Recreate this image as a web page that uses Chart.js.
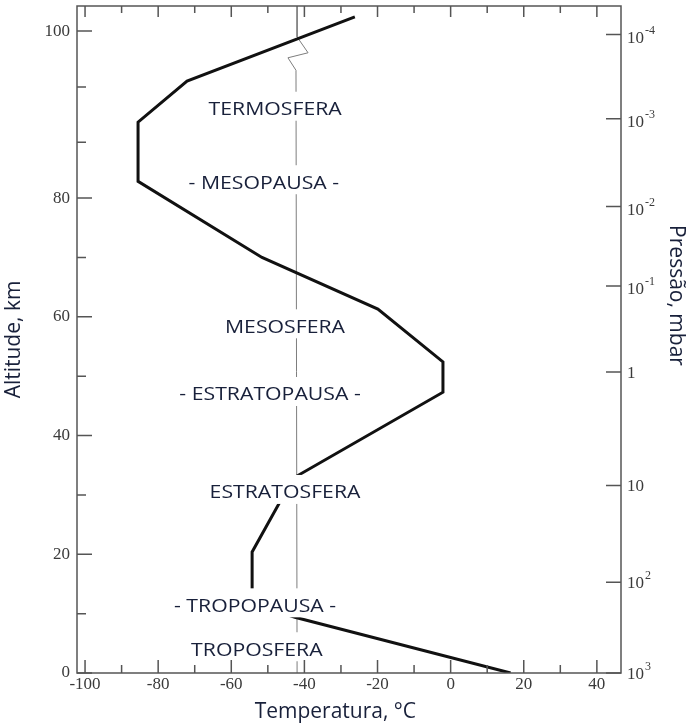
<!DOCTYPE html>
<html>
<head>
<meta charset="utf-8">
<script src="https://cdn.jsdelivr.net/npm/chart.js@4.4.0/dist/chart.umd.min.js"></script>
<style>
  html, body { margin: 0; padding: 0; background: #fff; }
  #wrap { width: 690px; height: 723px; }
</style>
</head>
<body>
<div id="wrap"><canvas id="chart"></canvas></div>
<script>
// temperature profile of the atmosphere (°C against km)
const profileTemp = [-26.2, -72.1, -85.5, -85.5, -51.6, -19.9, -2.1, -2.1, -43.1, -54.3, -54.3, -42.6, 16.4];
const profileAlt  = [101.7, 94.0, 89.1, 82.0, 70.0, 61.3, 52.4, 47.3, 32.8, 20.4, 11.8, 9.4, 0];

// thin reference line near -42 °C, with its little zigzag at the top
const refTemp = [-42, -42, -39.0, -44.5, -42.3, -42];
const refAlt  = [103, 99.3, 97.4, 96.8, 95.3, 0];

const layerNames = ['TERMOSFERA', '- MESOPAUSA -', 'MESOSFERA', '- ESTRATOPAUSA -', 'ESTRATOSFERA', '- TROPOPAUSA -', 'TROPOSFERA'];
const layerTemp  = [-48.0, -51.1, -45.3, -49.4, -45.3, -53.5, -53.0];
const layerAlt   = [90.7, 81.9, 58.4, 47.0, 30.5, 11.4, 4.0];

const tempTicks      = [-100, -80, -60, -40, -20, 0, 20, 40];
const tempMinorTicks = [-90, -70, -50, -30, -10, 10, 30];
const altTicks       = [0, 20, 40, 60, 80, 100];
const altMinorTicks  = [10, 30, 50, 70, 86.7, 93.3];
const pressureLabels = ['10^-4', '10^-3', '10^-2', '10^-1', '1', '10', '10^2', '10^3'];
const pressureAlt    = [99.6, 89.5, 78.6, 65.2, 50.7, 31.6, 15.3, 0];

const textColor = '#18203a';
const axisColor = '#555';
const serif = '"Liberation Serif", "DejaVu Serif", serif';
const sans = '"Open Sans", "Noto Sans", sans-serif';

// the source figure uses a wider step for the km axis above 80 km
const altBreak = { value: 80, fraction: 0.712 };

class BrokenAltitudeScale extends Chart.LinearScale {
  toFraction(v) {
    if (v <= altBreak.value) return (v - this.min) / (altBreak.value - this.min) * altBreak.fraction;
    return altBreak.fraction + (v - altBreak.value) / (this.max - altBreak.value) * (1 - altBreak.fraction);
  }
  getPixelForValue(v) {
    if (v === null || v === undefined || isNaN(v)) return NaN;
    return this.bottom - this.toFraction(v) * (this.bottom - this.top);
  }
  getValueForPixel(p) {
    const f = (this.bottom - p) / (this.bottom - this.top);
    if (f <= altBreak.fraction) return this.min + f / altBreak.fraction * (altBreak.value - this.min);
    return altBreak.value + (f - altBreak.fraction) / (1 - altBreak.fraction) * (this.max - altBreak.value);
  }
}
BrokenAltitudeScale.id = 'brokenAltitude';
Chart.register(BrokenAltitudeScale);

// fixed axis sizes so the plot box sits where it does in the figure
const fixVertical = width => s => {
  s.width = width;
  s.paddingTop = 0;
  s.paddingBottom = 0;
};

const layerLabels = {
  id: 'layerLabels',
  afterDatasetsDraw(chart) {
    const { ctx, scales: { x, y } } = chart;
    const stretch = 1.18;
    ctx.save();
    ctx.font = '18px ' + sans;
    layerNames.forEach((name, i) => {
      const cx = x.getPixelForValue(layerTemp[i]);
      const cy = y.getPixelForValue(layerAlt[i]);
      const w = ctx.measureText(name).width * stretch;
      ctx.fillStyle = '#fff';
      ctx.fillRect(cx - w / 2 - 5, cy - 17, w + 10, 29);
      ctx.save();
      ctx.translate(cx, cy + 6.4);
      ctx.scale(stretch, 1);
      ctx.textAlign = 'center';
      ctx.textBaseline = 'alphabetic';
      ctx.fillStyle = textColor;
      ctx.fillText(name, 0, 0);
      ctx.restore();
    });
    ctx.restore();
  }
};

const axisFrame = {
  id: 'axisFrame',
  afterDraw(chart) {
    const { ctx, chartArea: a, scales: { x, y } } = chart;
    ctx.save();
    ctx.strokeStyle = axisColor;
    ctx.lineWidth = 1.5;
    ctx.strokeRect(a.left, a.top, a.right - a.left, a.bottom - a.top);
    ctx.beginPath();
    const seg = (x1, y1, x2, y2) => { ctx.moveTo(x1, y1); ctx.lineTo(x2, y2); };
    tempTicks.forEach(v => {
      const px = x.getPixelForValue(v);
      seg(px, a.bottom, px, a.bottom - 13);
      seg(px, a.top, px, a.top + 11);
    });
    tempMinorTicks.forEach(v => {
      const px = x.getPixelForValue(v);
      seg(px, a.bottom, px, a.bottom - 8);
      seg(px, a.top, px, a.top + 7);
    });
    altTicks.forEach(v => {
      const py = y.getPixelForValue(v);
      seg(a.left, py, a.left + 15, py);
    });
    altMinorTicks.forEach(v => {
      const py = y.getPixelForValue(v);
      seg(a.left, py, a.left + 9, py);
    });
    pressureAlt.forEach(v => {
      const py = y.getPixelForValue(v);
      seg(a.right, py, a.right - 15, py);
    });
    ctx.stroke();

    // pressure labels with superscript exponents
    ctx.fillStyle = '#3a3a3a';
    ctx.textAlign = 'left';
    ctx.textBaseline = 'alphabetic';
    pressureLabels.forEach((lab, i) => {
      const py = y.getPixelForValue(pressureAlt[i]);
      const [base, exp] = lab.split('^');
      const bx = a.right + 6;
      const by = py + 5.5 + (exp && exp[0] === '-' ? 3 : 0);
      ctx.font = '17px ' + serif;
      ctx.fillText(base, bx, by);
      if (exp) {
        const bw = ctx.measureText(base).width;
        ctx.font = '12px ' + serif;
        ctx.fillText(exp, bx + bw + 1, by - 9);
      }
    });

    // right axis title
    ctx.save();
    ctx.translate(chart.width - 14, (a.top + a.bottom) / 2 - 44);
    ctx.rotate(Math.PI / 2);
    ctx.font = '21px ' + sans;
    ctx.fillStyle = textColor;
    ctx.textAlign = 'center';
    ctx.textBaseline = 'middle';
    ctx.fillText('Pressão, mbar', 0, 0);
    ctx.restore();
    ctx.restore();
  }
};

new Chart(document.getElementById('chart'), {
  type: 'line',
  data: {
    datasets: [
      {
        label: 'Temperatura',
        data: profileAlt.map((alt, i) => ({ x: profileTemp[i], y: alt })),
        borderColor: '#111',
        borderWidth: 3,
        pointRadius: 0,
        tension: 0
      },
      {
        label: 'Referência',
        data: refAlt.map((alt, i) => ({ x: refTemp[i], y: alt })),
        borderColor: '#7d7d7d',
        borderWidth: 1,
        pointRadius: 0,
        tension: 0
      }
    ]
  },
  options: {
    responsive: true,
    maintainAspectRatio: false,
    animation: false,
    layout: { padding: { top: 6 } },
    plugins: { legend: { display: false }, tooltip: { enabled: false } },
    scales: {
      x: {
        type: 'linear',
        min: -102.2,
        max: 46.6,
        afterBuildTicks: s => { s.ticks = tempTicks.map(v => ({ value: v })); },
        afterFit: s => { s.height = 50; s.paddingLeft = 0; s.paddingRight = 0; },
        grid: { display: false, drawTicks: false },
        border: { display: false },
        ticks: { autoSkip: false, maxRotation: 0, padding: 1, color: '#3a3a3a', font: { family: serif, size: 17 } },
        title: {
          display: true,
          text: 'Temperatura, °C     ',
          color: textColor,
          font: { family: sans, size: 21, lineHeight: 1 },
          padding: { top: 0, bottom: 0 }
        }
      },
      y: {
        type: 'brokenAltitude',
        position: 'left',
        min: 0,
        max: 103,
        afterBuildTicks: s => { s.ticks = altTicks.map(v => ({ value: v })); },
        afterFit: fixVertical(77),
        grid: { display: false, drawTicks: false },
        border: { display: false },
        ticks: { autoSkip: false, padding: 7, color: '#3a3a3a', font: { family: serif, size: 17 } },
        title: {
          display: true,
          text: 'Altitude, km',
          color: textColor,
          font: { family: sans, size: 21, lineHeight: 1 },
          padding: { top: 3.5, bottom: 0 }
        }
      },
      y2: {
        type: 'linear',
        position: 'right',
        min: 0,
        max: 103,
        afterFit: fixVertical(69),
        grid: { display: false, drawTicks: false },
        border: { display: false },
        ticks: { display: false }
      }
    }
  },
  plugins: [layerLabels, axisFrame]
});
</script>
</body>
</html>
